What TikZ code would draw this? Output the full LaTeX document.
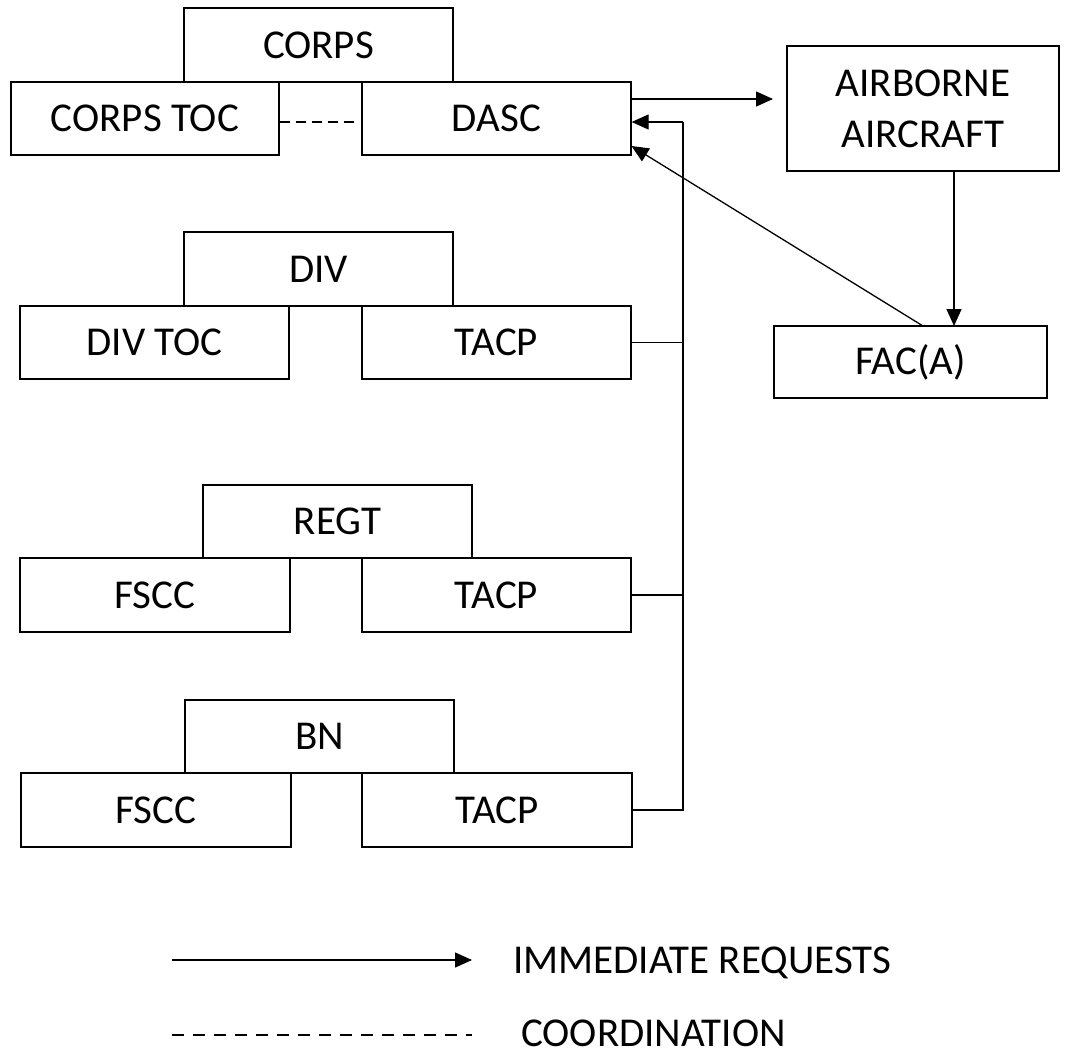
\documentclass[tikz,border=0pt]{standalone}
\usepackage{fontspec}
\setmainfont{Carlito}
\usetikzlibrary{arrows.meta,calc}
\begin{document}
\begin{tikzpicture}[x=1pt,y=-1pt,
  every node/.style={font=\fontsize{41}{52}\selectfont},
  box/.style={draw, line width=1.3pt, inner sep=0pt, minimum width=269pt, minimum height=73pt, align=center},
  conn/.style={line width=1.3pt},
  req/.style={line width=1.3pt, -{Triangle[length=17pt,width=15pt]}},
  coord/.style={line width=1.3pt, dash pattern=on 12pt off 9pt}]
\useasboundingbox (0,0) rectangle (1068,1055);
% CORPS group
\node[box, minimum height=74pt] (corps) at (318.5,45) {CORPS};
\node[box, minimum width=268pt] (corpstoc) at (145,118.5) {CORPS TOC};
\node[box] (dasc) at (496.5,118.5) {DASC};
% right side
\node[box, minimum width=272pt, minimum height=125pt] (air) at (923,108.5) {AIRBORNE\\[-1pt]AIRCRAFT};
\node[box, minimum width=273pt, minimum height=72pt] (fac) at (910.5,362) {FAC(A)};
% DIV group
\node[box, minimum height=74pt] (div) at (318.5,269) {DIV};
\node[box] (divtoc) at (154.5,342.5) {DIV TOC};
\node[box] (tacpa) at (496.5,342.5) {TACP};
% REGT group
\node[box] (regt) at (337.5,521.5) {REGT};
\node[box, minimum width=270pt, minimum height=74pt] (fscca) at (155,595) {FSCC};
\node[box, minimum height=74pt] (tacpb) at (496.5,595) {TACP};
% BN group
\node[box] (bn) at (319.5,736.5) {BN};
\node[box, minimum width=270pt, minimum height=74pt] (fsccb) at (156,810) {FSCC};
\node[box, minimum width=270pt, minimum height=74pt] (tacpc) at (497,810) {TACP};
% coordinates
\coordinate (dashy) at (0,122);
\coordinate (bustop) at (683,122);
\coordinate (busbot) at (683,810);
\coordinate (dascout) at (631,99);
\coordinate (airin) at (773,99);
\coordinate (airbot) at (954,171);
\coordinate (factop) at (954,326);
\coordinate (facdiag) at (923,326);
\coordinate (dascdiag) at (631.5,146);
% connectors
\draw[line width=1.3pt, dash pattern=on 10pt off 6pt, shorten >=6pt] (corpstoc.east |- dashy) -- (dasc.west |- dashy);
\draw[req] (dascout) -- (airin);
\draw[req] (airbot) -- (factop);
\draw[req] (facdiag) -- (dascdiag);
\draw[conn] (tacpc.east) -- (busbot) -- (bustop);
\draw[req] (bustop) -- (bustop -| dasc.east);
\draw[conn] (tacpa.east) -- (tacpa.east -| bustop);
\draw[conn] (tacpb.east) -- (tacpb.east -| bustop);
% legend
\coordinate (la) at (172,960);
\coordinate (lb) at (472,960);
\coordinate (lc) at (172,1035);
\coordinate (ld) at (472,1035);
\draw[req] (la) -- (lb);
\draw[coord] (lc) -- (ld);
\node[anchor=west, inner sep=0pt] (legreq) at (513,963) {IMMEDIATE REQUESTS};
\node[anchor=west, inner sep=0pt] (legcoord) at (521,1033) {COORDINATION};
\end{tikzpicture}
\end{document}
